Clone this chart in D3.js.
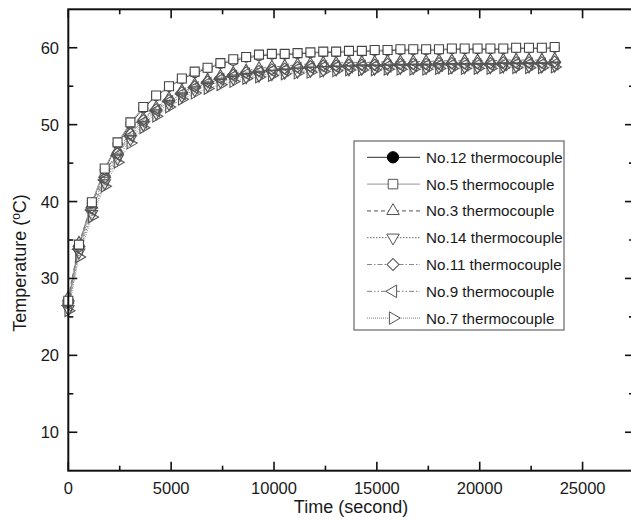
<!DOCTYPE html>
<html>
<head>
<meta charset="utf-8">
<script src="https://cdn.jsdelivr.net/npm/d3@7"></script>
<style>
  body { margin: 0; background: #fff; }
  svg { display: block; font-family: "Liberation Sans", Arial, sans-serif; }
</style>
</head>
<body>
<svg id="chart" width="631" height="523"></svg>
<script>
// Data (time in seconds, temperature in °C)
const timeSec = [0, 520, 1145, 1770, 2395, 3020, 3645, 4270, 4895, 5520, 6145, 6770, 7395, 8020, 8645, 9270,
  9895, 10520, 11145, 11770, 12395, 13020, 13645, 14270, 14895, 15520, 16145, 16770, 17395, 18020, 18645,
  19270, 19895, 20520, 21145, 21770, 22395, 23020, 23645];

const no12 = [26.9, 34.3, 39.8, 44.1, 47.5, 50.1, 52.1, 53.7, 54.9, 55.9, 56.7, 57.3, 57.9, 58.3, 58.7, 58.9, 59.1, 59.1, 59.2, 59.3,
  59.4, 59.4, 59.5, 59.5, 59.6, 59.6, 59.7, 59.7, 59.7, 59.7, 59.8, 59.8, 59.8, 59.8, 59.8, 59.9, 59.9, 59.9, 60.0];
const no5 = [27.1, 34.4, 39.9, 44.3, 47.7, 50.3, 52.3, 53.8, 55.0, 56.0, 56.9, 57.4, 58.0, 58.5, 58.8, 59.1, 59.2, 59.2, 59.3, 59.4,
  59.5, 59.5, 59.6, 59.6, 59.7, 59.7, 59.8, 59.8, 59.8, 59.8, 59.9, 59.9, 59.9, 59.9, 59.9, 60.0, 60.0, 60.0, 60.1];
const no3 = [27.5, 34.6, 39.6, 43.6, 46.6, 49.0, 50.8, 52.2, 53.4, 54.4, 55.2, 55.8, 56.3, 56.7, 57.0, 57.3, 57.5, 57.6, 57.8, 57.9,
  58.0, 58.0, 58.1, 58.1, 58.1, 58.2, 58.2, 58.2, 58.2, 58.3, 58.3, 58.3, 58.3, 58.3, 58.4, 58.4, 58.4, 58.4, 58.5];
const no14 = [26.0, 33.4, 38.4, 42.4, 45.6, 48.1, 50.0, 51.5, 52.7, 53.7, 54.5, 55.1, 55.6, 56.0, 56.2, 56.4, 56.6, 56.8, 56.9, 57.0,
  57.1, 57.2, 57.2, 57.3, 57.3, 57.3, 57.4, 57.4, 57.4, 57.5, 57.5, 57.5, 57.5, 57.5, 57.6, 57.6, 57.6, 57.6, 57.7];
const no11 = [26.8, 34.1, 39.2, 43.1, 46.3, 48.8, 50.6, 52.0, 53.2, 54.2, 55.0, 55.6, 56.1, 56.5, 56.8, 57.0, 57.2, 57.3, 57.5, 57.6,
  57.7, 57.7, 57.8, 57.8, 57.8, 57.9, 57.9, 57.9, 57.9, 58.0, 58.0, 58.0, 58.0, 58.0, 58.1, 58.1, 58.1, 58.1, 58.2];
const no9 = [26.5, 33.8, 38.9, 42.8, 46.0, 48.5, 50.3, 51.8, 53.0, 54.0, 54.8, 55.4, 55.9, 56.3, 56.6, 56.8, 57.0, 57.1, 57.3, 57.4,
  57.5, 57.5, 57.5, 57.6, 57.6, 57.6, 57.7, 57.7, 57.7, 57.7, 57.8, 57.8, 57.8, 57.8, 57.8, 57.9, 57.9, 57.9, 57.9];
const no7 = [25.8, 32.8, 38.0, 42.0, 45.1, 47.6, 49.6, 51.1, 52.3, 53.3, 54.1, 54.7, 55.2, 55.6, 56.0, 56.2, 56.4, 56.6, 56.7, 56.8,
  56.9, 57.0, 57.1, 57.1, 57.1, 57.2, 57.2, 57.2, 57.2, 57.3, 57.3, 57.3, 57.3, 57.3, 57.4, 57.4, 57.4, 57.4, 57.5];

const seriesNames = ["No.12 thermocouple", "No.5 thermocouple", "No.3 thermocouple", "No.14 thermocouple",
  "No.11 thermocouple", "No.9 thermocouple", "No.7 thermocouple"];
const seriesValues = [no12, no5, no3, no14, no11, no9, no7];

const xTicks = [0, 5000, 10000, 15000, 20000, 25000];
const yTicks = [10, 20, 30, 40, 50, 60];

// Style for each series (marker, dash)
const styles = [
  { sym: d3.symbolCircle, size: 64, rot: 0, dash: null, line: "#555", legendFill: "#000" },
  { sym: d3.symbolSquare, size: 81, rot: 0, dash: null, line: "#aaa", legendFill: "#fff" },
  { sym: d3.symbolTriangle, size: 58, rot: 0, dash: "4,3", line: "#777", legendFill: "#fff" },
  { sym: d3.symbolTriangle, size: 58, rot: 180, dash: "1.5,1.5", line: "#888", legendFill: "#fff" },
  { sym: d3.symbolSquare, size: 62, rot: 45, dash: "5,2,1.5,2", line: "#888", legendFill: "#fff" },
  { sym: d3.symbolTriangle, size: 58, rot: -90, dash: "5,2,1.5,2,1.5,2", line: "#999", legendFill: "#fff" },
  { sym: d3.symbolTriangle, size: 58, rot: 90, dash: "1,1", line: "#999", legendFill: "#fff" }
];

const svg = d3.select("#chart");
const MARGIN = { left: 68.3, right: 634, top: 9.3, bottom: 470.7 };

const x = d3.scaleLinear().domain([0, 27500]).range([MARGIN.left, MARGIN.right]);
const y = d3.scaleLinear().domain([5, 65]).range([MARGIN.bottom, MARGIN.top]);

const line = d3.line().x(d => x(d[0])).y(d => y(d[1]));

// series lines first
const plot = svg.append("g");
seriesValues.forEach((vals, i) => {
  const pts = timeSec.map((t, k) => [t, vals[k]]);
  plot.append("path")
    .datum(pts)
    .attr("d", line)
    .attr("fill", "none")
    .attr("stroke", styles[i].line)
    .attr("stroke-width", 1)
    .attr("stroke-dasharray", styles[i].dash);
});

// markers: circles, then the lower cluster, squares last on top
const drawOrder = [0, 6, 5, 4, 3, 2, 1];
drawOrder.forEach(i => {
  const vals = seriesValues[i];
  const st = styles[i];
  const sym = d3.symbol().type(st.sym).size(st.size);
  plot.append("g").selectAll("path")
    .data(timeSec.map((t, k) => [t, vals[k]]))
    .join("path")
    .attr("d", sym)
    .attr("transform", d => `translate(${x(d[0])},${y(d[1])}) rotate(${st.rot})`)
    .attr("fill", i <= 1 ? "#fff" : "none")
    .attr("stroke", i <= 1 ? "#444" : "#555")
    .attr("stroke-width", 1.1);
});

// axes: frame with inward ticks
const axisG = svg.append("g").attr("stroke", "#111");
const xMajor = d3.range(0, 27501, 5000);
const xMinor = d3.range(2500, 27501, 5000);
const yMajor = d3.range(10, 61, 10);
const yMinor = d3.range(15, 61, 10);

function tick(x1, y1, x2, y2) {
  axisG.append("line").attr("x1", x1).attr("y1", y1).attr("x2", x2).attr("y2", y2).attr("stroke-width", 1.6);
}
xMajor.forEach(v => { tick(x(v), MARGIN.bottom, x(v), MARGIN.bottom - 9); tick(x(v), MARGIN.top, x(v), MARGIN.top + 9); });
xMinor.forEach(v => { tick(x(v), MARGIN.bottom, x(v), MARGIN.bottom - 5); tick(x(v), MARGIN.top, x(v), MARGIN.top + 5); });
yMajor.forEach(v => { tick(MARGIN.left, y(v), MARGIN.left + 9, y(v)); tick(MARGIN.right, y(v), MARGIN.right - 9, y(v)); });
yMinor.forEach(v => { tick(MARGIN.left, y(v), MARGIN.left + 5, y(v)); tick(MARGIN.right, y(v), MARGIN.right - 5, y(v)); });

axisG.append("rect")
  .attr("x", MARGIN.left).attr("y", MARGIN.top)
  .attr("width", MARGIN.right - MARGIN.left).attr("height", MARGIN.bottom - MARGIN.top)
  .attr("fill", "none").attr("stroke-width", 2);

// tick labels
svg.append("g").selectAll("text")
  .data(xTicks).join("text")
  .attr("x", d => x(d)).attr("y", 494)
  .attr("text-anchor", "middle")
  .attr("font-size", 16.5).attr("fill", "#1a1a1a")
  .text(d => d);

svg.append("g").selectAll("text")
  .data(yTicks).join("text")
  .attr("x", 59).attr("y", d => y(d) + 6)
  .attr("text-anchor", "end")
  .attr("font-size", 16.5).attr("fill", "#1a1a1a")
  .text(d => d);

// axis titles
svg.append("text")
  .attr("x", 351).attr("y", 513)
  .attr("text-anchor", "middle")
  .attr("font-size", 18).attr("fill", "#1a1a1a")
  .text("Time (second)");

const yt = svg.append("text")
  .attr("transform", "translate(26,263) rotate(-90)")
  .attr("text-anchor", "middle")
  .attr("font-size", 18).attr("fill", "#1a1a1a");
yt.append("tspan").text("Temperature (");
yt.append("tspan").attr("font-size", 12).attr("dy", -6).text("o");
yt.append("tspan").attr("dy", 6).text("C)");

// legend
const legend = svg.append("g");
legend.append("rect")
  .attr("x", 354).attr("y", 141).attr("width", 210).attr("height", 189)
  .attr("fill", "#fff").attr("stroke", "#666").attr("stroke-width", 1.2);

seriesNames.forEach((name, i) => {
  const cy = 157.3 + i * 26.8;
  const st = styles[i];
  legend.append("line")
    .attr("x1", 367).attr("x2", 420).attr("y1", cy).attr("y2", cy)
    .attr("stroke", st.line).attr("stroke-width", 1.2)
    .attr("stroke-dasharray", st.dash);
  legend.append("path")
    .attr("d", d3.symbol().type(st.sym).size(i === 0 ? 100 : st.size + 10)())
    .attr("transform", `translate(393,${cy}) rotate(${st.rot})`)
    .attr("fill", st.legendFill)
    .attr("stroke", i === 0 ? "#000" : "#555")
    .attr("stroke-width", 1);
  legend.append("text")
    .attr("x", 426).attr("y", cy + 5.5)
    .attr("font-size", 15.2).attr("fill", "#1a1a1a")
    .text(name);
});
</script>
</body>
</html>
